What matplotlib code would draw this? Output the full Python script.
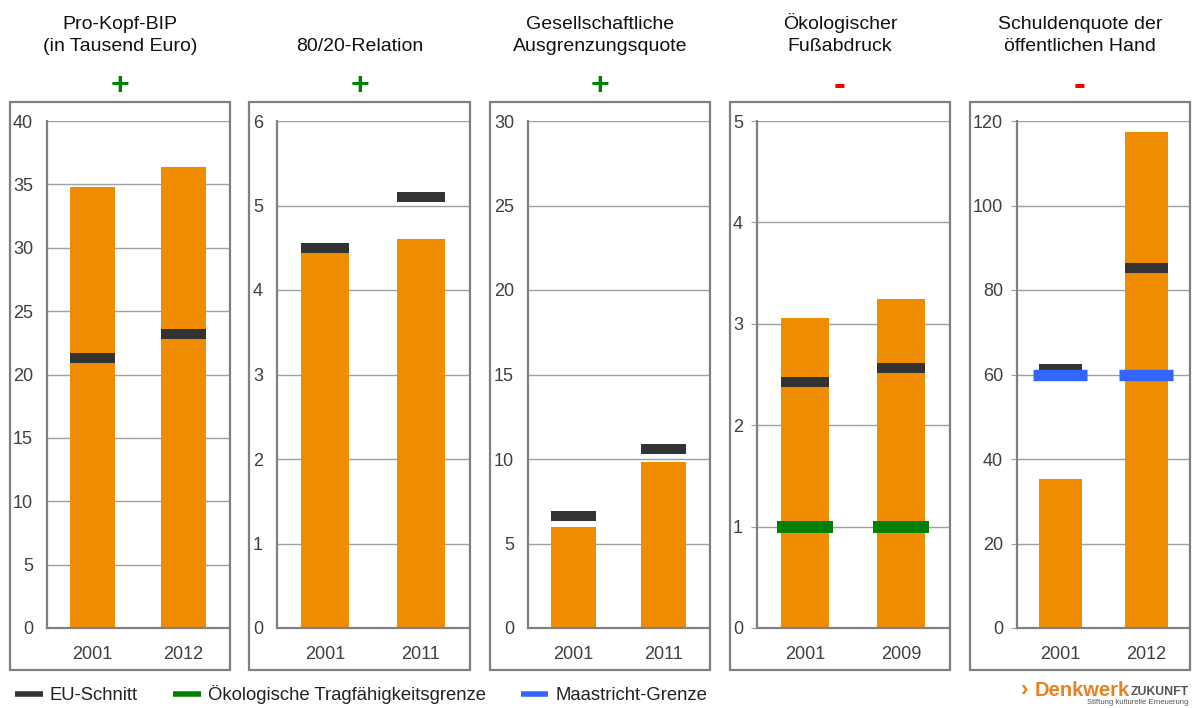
import matplotlib
matplotlib.use("Agg")
import matplotlib.pyplot as plt
from matplotlib.patches import Rectangle
from matplotlib.lines import Line2D

plt.rcParams["font.family"] = ["Liberation Sans", "DejaVu Sans"]

# indicator panels
titles = [
    "Pro-Kopf-BIP\n(in Tausend Euro)",
    "80/20-Relation",
    "Gesellschaftliche\nAusgrenzungsquote",
    "Ökologischer\nFußabdruck",
    "Schuldenquote der\nöffentlichen Hand",
]
signs = ["+", "+", "+", "-", "-"]
sign_colors = ["#008000", "#008000", "#008000", "#ff0000", "#ff0000"]

years_bip = ["2001", "2012"]
years_8020 = ["2001", "2011"]
years_ausgr = ["2001", "2011"]
years_fuss = ["2001", "2009"]
years_schuld = ["2001", "2012"]

values_bip = [34.8, 36.4]
values_8020 = [4.5, 4.6]
values_ausgr = [6.0, 9.8]
values_fuss = [3.06, 3.24]
values_schuld = [35.3, 117.4]

eu_bip = [21.3, 23.2]
eu_8020 = [4.5, 5.1]
eu_ausgr = [6.6, 10.6]
eu_fuss = [2.43, 2.56]
eu_schuld = [61.2, 85.2]

eco_limit_fuss = [1.0, 1.0]
maastricht_schuld = [60, 60]

ymax = [40, 6, 30, 5, 120]
ystep = [5, 1, 5, 1, 20]

years = [years_bip, years_8020, years_ausgr, years_fuss, years_schuld]
values = [values_bip, values_8020, values_ausgr, values_fuss, values_schuld]
eu_avg = [eu_bip, eu_8020, eu_ausgr, eu_fuss, eu_schuld]
eco_limit = [None, None, None, eco_limit_fuss, None]
maastricht = [None, None, None, None, maastricht_schuld]

BAR = "#f08c00"
EU = "#333333"
GREEN = "#008000"
BLUE = "#3366ff"
FRAME = "#808080"
GRID = "#a0a0a0"
TXT = "#404040"

W, H = 1195, 708
fig = plt.figure(figsize=(W / 100, H / 100), dpi=100)

outer_left = [10, 249, 490, 730, 970]
outer_right = [230, 470, 710, 950, 1190]
inner_left = [47, 277, 528, 757, 1017]
frame_top, frame_bottom = 102, 670
ax_top, ax_bottom = 121, 628

for i in range(5):
    # grey frame around each panel
    fig.add_artist(Rectangle(
        (outer_left[i] / W, 1 - frame_bottom / H),
        (outer_right[i] - outer_left[i]) / W,
        (frame_bottom - frame_top) / H,
        transform=fig.transFigure, fill=False, edgecolor=FRAME, lw=1.6))

    cx = (outer_left[i] + outer_right[i]) / 2 / W
    fig.text(cx, 1 - 55 / H, titles[i], ha="center", va="bottom",
             fontsize=14, color="#111111", linespacing=1.4)
    fig.text(cx, 1 - 86 / H, signs[i], ha="center", va="center",
             fontsize=23 if signs[i] == "+" else 26, fontweight="bold",
             color=sign_colors[i])

    ax = fig.add_axes([inner_left[i] / W, 1 - ax_bottom / H,
                       (outer_right[i] - 1 - inner_left[i]) / W,
                       (ax_bottom - ax_top) / H])
    x = range(len(years[i]))
    ax.bar(x, values[i], width=0.5, color=BAR, zorder=2)
    ax.hlines(eu_avg[i], [v - 0.25 for v in x], [v + 0.25 for v in x],
              colors=EU, lw=7.2, capstyle="butt", zorder=3)
    if eco_limit[i] is not None:
        ax.hlines(eco_limit[i], [v - 0.29 for v in x], [v + 0.29 for v in x],
                  colors=GREEN, lw=8.6, capstyle="butt", zorder=4)
    if maastricht[i] is not None:
        ax.hlines(maastricht[i], [v - 0.31 for v in x], [v + 0.31 for v in x],
                  colors=BLUE, lw=8.2, capstyle="butt", zorder=4)

    ax.set_xlim(-0.5, 1.5)
    ax.set_ylim(0, ymax[i])
    ax.set_yticks(range(0, ymax[i] + 1, ystep[i]))
    ax.set_xticks(list(x))
    ax.set_xticklabels(years[i])
    ax.grid(axis="y", color=GRID, lw=1, zorder=0)
    ax.set_axisbelow(True)
    for side in ["top", "right"]:
        ax.spines[side].set_visible(False)
    for side in ["left", "bottom"]:
        ax.spines[side].set_color(FRAME)
        ax.spines[side].set_linewidth(1.6)
    ax.tick_params(axis="x", length=0, pad=13, labelsize=13, labelcolor=TXT)
    tlen = 4 if i >= 3 else 0
    ax.tick_params(axis="y", length=tlen, color=GRID,
                   pad=10 - tlen, labelsize=13, labelcolor=TXT)

# legend
handles = [
    Line2D([], [], color=EU, lw=4, solid_capstyle="butt"),
    Line2D([], [], color=GREEN, lw=4, solid_capstyle="butt"),
    Line2D([], [], color=BLUE, lw=4, solid_capstyle="butt"),
]
labels = ["EU-Schnitt", "Ökologische Tragfähigkeitsgrenze", "Maastricht-Grenze"]
fig.legend(handles, labels, loc="center left", bbox_to_anchor=(15 / W, 1 - 695 / H),
           ncol=3, frameon=False, fontsize=13.3, handlelength=1.5,
           handletextpad=0.38, columnspacing=1.9, borderpad=0,
           borderaxespad=0, labelcolor="#222222")

# logo
fig.text(1021 / W, 1 - 690 / H, "›", fontsize=16, fontweight="bold",
         color="#e8821e", ha="left", va="center")
fig.text(1035 / W, 1 - 690 / H, "Denkwerk", fontsize=14.5, fontweight="bold",
         color="#e8821e", ha="left", va="center")
fig.text(1131 / W, 1 - 692 / H, "ZUKUNFT", fontsize=8.8, fontweight="bold",
         color="#555555", ha="left", va="center")
fig.text(1188 / W, 1 - 703 / H, "Stiftung kulturelle Erneuerung", fontsize=5.5,
         color="#555555", ha="right", va="center")

fig.savefig("out.png", dpi=100)
